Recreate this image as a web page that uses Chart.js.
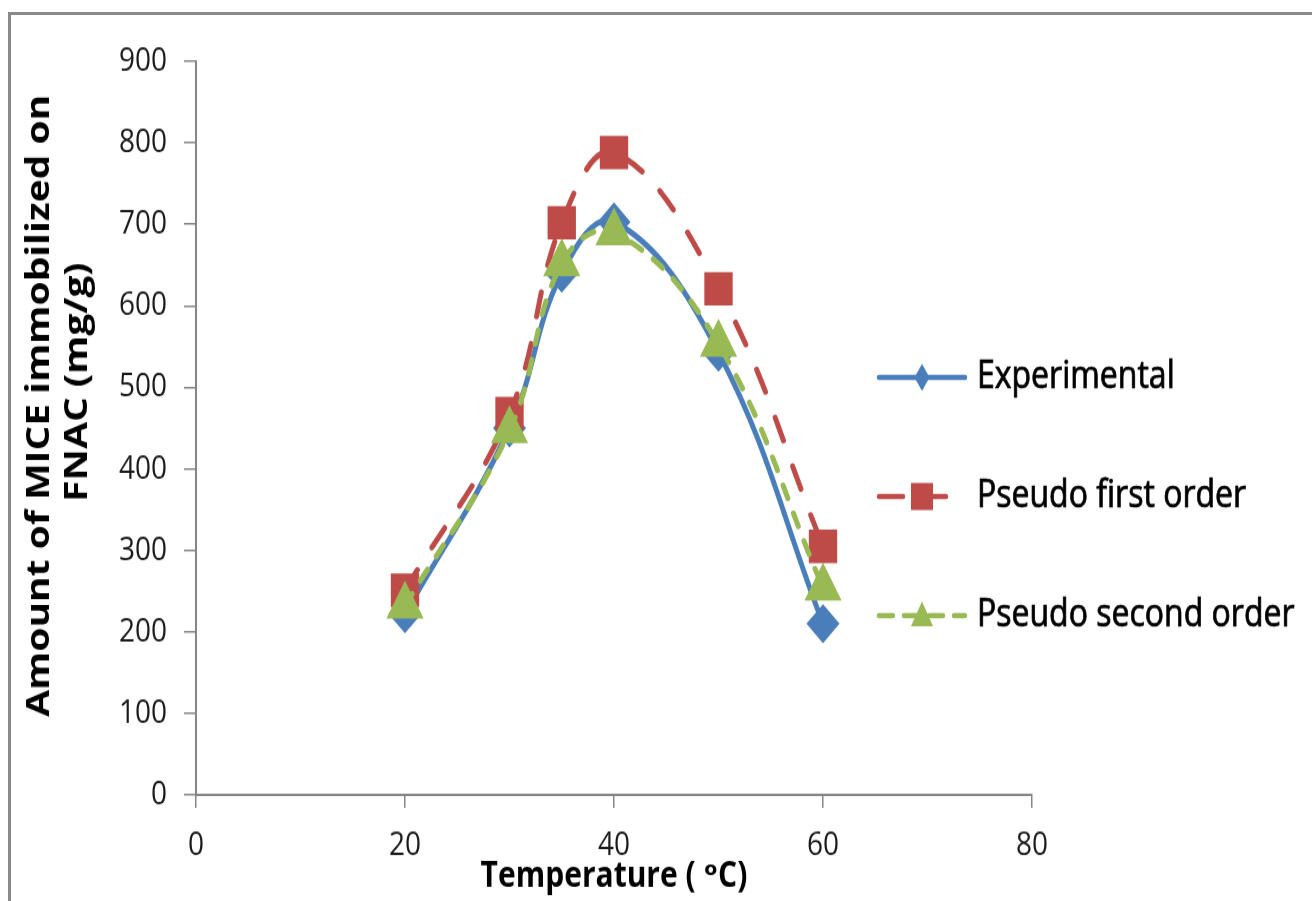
<!DOCTYPE html>
<html>
<head>
<meta charset="utf-8">
<script src="https://cdn.jsdelivr.net/npm/chart.js@4/dist/chart.umd.min.js"></script>
<style>
	html, body { margin: 0; padding: 0; background: #fff; overflow: hidden; width: 1312px; height: 901px; }
	#frame { position: absolute; left: 8px; top: 12px; width: 1400px; height: 1000px; border: 3px solid #8a8a8a; box-sizing: border-box; }
	/* the source picture is stretched vertically, so draw at 764px tall and stretch to 901 */
	#wrap { position: absolute; left: 0; top: 0; width: 1312px; height: 764px; transform: scaleY(1.1793); transform-origin: 0 0; }
</style>
</head>
<body>
<div id="frame"></div>
<div id="wrap"><canvas id="temp_chart"></canvas></div>
<script>
"use strict";

const temps = [20, 30, 35, 40, 50, 60];
const experimental = [222, 450, 640, 703, 543, 210];
const pseudoFirst = [251, 468, 702, 788, 621, 305];
const pseudoSecond = [232, 447, 652, 690, 553, 254];
const seriesNames = ["Experimental", "Pseudo first order", "Pseudo second order"];
const xTicks = [0, 20, 40, 60, 80];
const yTicks = [0, 100, 200, 300, 400, 500, 600, 700, 800, 900];
const yTitleLines = ["Amount of MICE immobilized on", "FNAC (mg/g)"];
const xTitle = "Temperature ( \u1d52C)";

const blue = "#4A7EBB";
const red = "#BE4B48";
const green = "#98B954";
const axisGrey = "#868686";
const fontFam = "'Open Sans', 'DejaVu Sans', sans-serif";

const toPoints = function (vals) {
	return temps.map((t, i) => ({ x: t, y: vals[i] }));
};

// small markers for the side legend
function drawMarker(ctx, style, x, y, color) {
	ctx.save();
	ctx.fillStyle = color;
	ctx.beginPath();
	if (style === "rect") {
		ctx.rect(x - 11, y - 11.5, 22, 23);
	} else if (style === "rectRot") {
		ctx.moveTo(x, y - 11.5);
		ctx.lineTo(x + 7.5, y);
		ctx.lineTo(x, y + 11.5);
		ctx.lineTo(x - 7.5, y);
		ctx.closePath();
	} else {
		ctx.moveTo(x, y - 12);
		ctx.lineTo(x + 11, y + 9);
		ctx.lineTo(x - 11, y + 9);
		ctx.closePath();
	}
	ctx.fill();
	ctx.restore();
}

const sideLegend = {
	id: "sideLegend",
	afterDraw(chart) {
		const ctx = chart.ctx;
		const x0 = 879;
		const x1 = 965;
		const rows = [320, 421, 522];
		chart.data.datasets.forEach((ds, i) => {
			const y = rows[i];
			ctx.save();
			ctx.strokeStyle = ds.borderColor;
			ctx.lineWidth = 4.5;
			ctx.lineCap = "round";
			ctx.setLineDash(ds.legendDash);
			ctx.beginPath();
			ctx.moveTo(x0, y);
			ctx.lineTo(x1, y);
			ctx.stroke();
			ctx.restore();
			drawMarker(ctx, ds.pointStyle, 922, y, ds.backgroundColor);
			ctx.save();
			ctx.fillStyle = "#000";
			ctx.strokeStyle = "#000";
			ctx.lineWidth = 0.7;
			ctx.font = "32px " + fontFam;
			ctx.textBaseline = "middle";
			ctx.textAlign = "left";
			ctx.fillText(ds.label, 977, y);
			ctx.strokeText(ds.label, 977, y);
			ctx.restore();
		});

		// y axis title, two rotated lines
		ctx.save();
		ctx.fillStyle = "#000";
		ctx.font = "bold 33px " + fontFam;
		ctx.textAlign = "center";
		ctx.textBaseline = "middle";
		[[40, 344], [78, 324]].forEach((pos, i) => {
			ctx.save();
			ctx.translate(pos[0], pos[1]);
			ctx.rotate(-Math.PI / 2);
			ctx.fillText(yTitleLines[i], 0, 0);
			ctx.restore();
		});
		ctx.restore();
	},
};

const ctx = document.getElementById("temp_chart");

new Chart(ctx, {
	type: "line",
	data: {
		datasets: [
			{
				label: seriesNames[0],
				data: toPoints(experimental),
				borderColor: blue,
				backgroundColor: blue,
				borderWidth: 5,
				legendDash: [],
				pointStyle: "rectRot",
				pointRadius: 13,
				tension: 0.4,
				order: 3,
			},
			{
				label: seriesNames[1],
				data: toPoints(pseudoFirst),
				borderColor: red,
				backgroundColor: red,
				borderWidth: 5,
				borderDash: [21, 24],
				borderCapStyle: "round",
				legendDash: [24, 19],
				pointStyle: "rect",
				pointRadius: 16.5,
				tension: 0.4,
				order: 2,
			},
			{
				label: seriesNames[2],
				data: toPoints(pseudoSecond),
				borderColor: green,
				backgroundColor: green,
				borderWidth: 5,
				borderDash: [12, 14],
				borderCapStyle: "round",
				legendDash: [14, 11],
				pointStyle: "triangle",
				pointRadius: 16.5,
				tension: 0.4,
				order: 1,
			},
		],
	},
	options: {
		responsive: true,
		maintainAspectRatio: false,
		animation: false,
		layout: { padding: { left: 18, right: 280, top: 52, bottom: 3 } },
		plugins: {
			legend: { display: false },
			tooltip: { enabled: false },
		},
		scales: {
			x: {
				type: "linear",
				min: 0,
				max: 80,
				afterBuildTicks: (scale) => {
					scale.ticks = xTicks.map((v) => ({ value: v }));
				},
				afterFit: (scale) => {
					scale.height = 87;
				},
				border: { color: axisGrey, width: 2 },
				grid: { drawOnChartArea: false, color: axisGrey, tickLength: 11, lineWidth: 1.5 },
				ticks: { color: "#1a1a1a", font: { family: fontFam, size: 28 }, padding: 15, maxRotation: 0 },
				title: {
					display: true,
					text: xTitle,
					color: "#000",
					font: { family: fontFam, size: 30, weight: "bold" },
					padding: { top: 0, bottom: 0 },
				},
			},
			y: {
				min: 0,
				max: 900,
				afterBuildTicks: (scale) => {
					scale.ticks = yTicks.map((v) => ({ value: v }));
				},
				afterFit: (scale) => {
					scale.width = 178;
				},
				border: { color: axisGrey, width: 2 },
				grid: { drawOnChartArea: false, color: axisGrey, tickLength: 12, lineWidth: 1.5 },
				ticks: { color: "#1a1a1a", font: { family: fontFam, size: 28 }, padding: 17 },
			},
		},
	},
	plugins: [sideLegend],
});
</script>
</body>
</html>
